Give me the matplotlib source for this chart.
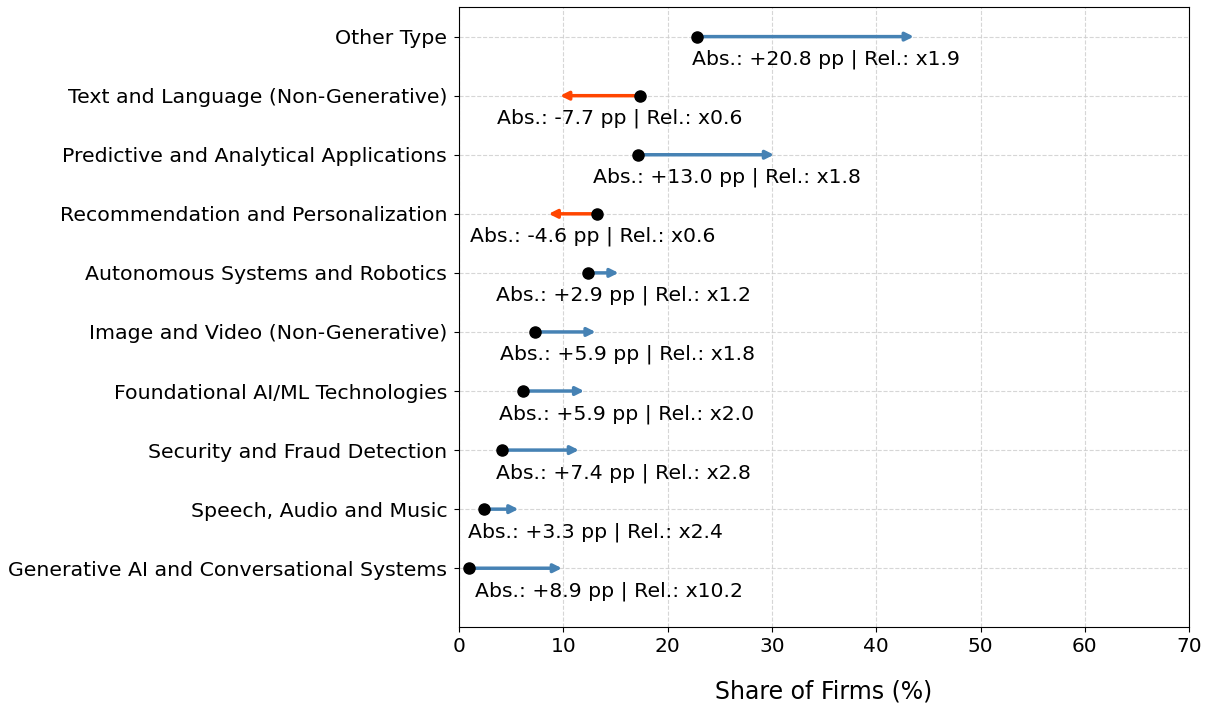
import matplotlib.pyplot as plt
import numpy as np

categories = ["Generative AI and Conversational Systems", "Speech, Audio and Music",
              "Security and Fraud Detection", "Foundational AI/ML Technologies",
              "Image and Video (Non-Generative)", "Autonomous Systems and Robotics",
              "Recommendation and Personalization", "Predictive and Analytical Applications",
              "Text and Language (Non-Generative)", "Other Type"]
start = [0.97, 2.4, 4.1, 6.1, 7.3, 12.4, 13.2, 17.2, 17.4, 22.8]
end = [9.87, 5.7, 11.5, 12.0, 13.1, 15.3, 8.6, 30.2, 9.7, 43.6]
abs_lbl = ["+8.9", "+3.3", "+7.4", "+5.9", "+5.9", "+2.9", "-4.6", "+13.0", "-7.7", "+20.8"]
rel_lbl = ["x10.2", "x2.4", "x2.8", "x2.0", "x1.8", "x1.2", "x0.6", "x1.8", "x0.6", "x1.9"]

# horizontal shift of each annotation from the arrow midpoint (layout only)
label_dx = [9.0, 9.0, 7.95, 7.0, 6.0, 1.9, 1.9, 2.0, 1.85, 2.0]

fig, ax = plt.subplots(figsize=(12.11, 7.08), dpi=100)
fig.subplots_adjust(left=0.379, right=0.982, top=0.99, bottom=0.114)

y = np.arange(len(categories))
for i in range(len(categories)):
    color = "#4682B4" if end[i] >= start[i] else "#FF4500"
    ax.annotate("", xy=(end[i], y[i]), xytext=(start[i], y[i]),
                arrowprops=dict(arrowstyle="-|>", color=color, lw=2.5, mutation_scale=12,
                                shrinkA=0, shrinkB=0), zorder=3)
    ax.plot(start[i], y[i], "o", color="black", markersize=8, zorder=4)
    ax.text((start[i] + end[i]) / 2 + label_dx[i], y[i] - 0.22,
            f"Abs.: {abs_lbl[i]} pp | Rel.: {rel_lbl[i]}",
            ha="center", va="top", fontsize=14.7)

ax.set_yticks(y)
ax.set_yticklabels(categories, fontsize=14.75)
ax.tick_params(axis="y", pad=5)
ax.set_xlim(0, 70)
ax.set_ylim(-1, 9.5)
ax.tick_params(axis="x", labelsize=14.5)
ax.set_xlabel("Share of Firms (%)", fontsize=17, labelpad=17)
ax.grid(True, linestyle="--", color="#cccccc", alpha=0.8)
ax.set_axisbelow(True)

fig.savefig("out.png")
